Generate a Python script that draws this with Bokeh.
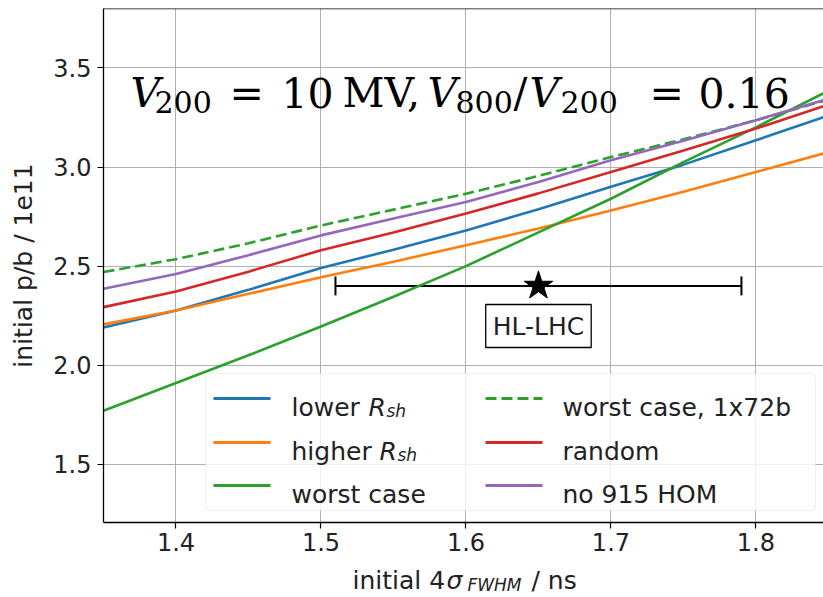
from bokeh.plotting import figure
from bokeh.layouts import column
from bokeh.models import (ColumnDataSource, Range1d, Label, BoxAnnotation, Arrow,
                          Whisker, TeeHead, Span, FixedTicker, PrintfTickFormatter)
from bokeh.core.properties import value
from bokeh.embed import file_html
from bokeh.resources import INLINE

# ---------------- data ----------------
x_ns = [1.35, 1.40, 1.45, 1.50, 1.55, 1.60, 1.65, 1.70, 1.75, 1.80, 1.85]
lower_rsh = [2.190, 2.276, 2.380, 2.490, 2.583, 2.680, 2.787, 2.900, 3.012, 3.135, 3.260]
higher_rsh = [2.206, 2.276, 2.360, 2.444, 2.522, 2.605, 2.690, 2.780, 2.875, 2.975, 3.075]
worst_case = [1.770, 1.910, 2.050, 2.195, 2.345, 2.500, 2.670, 2.840, 3.025, 3.200, 3.385]
worst_72b = [2.470, 2.535, 2.615, 2.705, 2.785, 2.865, 2.955, 3.050, 3.140, 3.236, 3.340]
random_ = [2.293, 2.372, 2.472, 2.580, 2.670, 2.765, 2.867, 2.975, 3.083, 3.194, 3.315]
no_915 = [2.386, 2.460, 2.555, 2.655, 2.740, 2.823, 2.925, 3.034, 3.132, 3.236, 3.345]

hl_x = [1.65]
hl_y = [2.40]
hl_lo = [1.51]
hl_hi = [1.79]

x_ticks = [1.4, 1.5, 1.6, 1.7, 1.8]
y_ticks = [1.5, 2.0, 2.5, 3.0, 3.5]

series = [
    ("lower R_sh", lower_rsh, "#1f77b4", None),
    ("higher R_sh", higher_rsh, "#ff7f0e", None),
    ("worst case", worst_case, "#2ca02c", None),
    ("worst case, 1x72b", worst_72b, "#2ca02c", "11 5"),
    ("random", random_, "#d62728", None),
    ("no 915 HOM", no_915, "#9467bd", None),
]

# ---------------- layout ----------------
W, H = 823, 597
H_LAB = 35                  # strip under the chart holding the x-axis title
H_MAIN = H - H_LAB
X0, X1 = 1.35, 1.8466
Y0, Y1 = 1.206, 3.80
FL, FT = 103, 8
FH = 514
FB = H_MAIN - FT - FH
fw = W - FL


def dx(px):
    return X0 + (px - FL) * (X1 - X0) / fw


def dy(py):
    return Y1 - (py - FT) * (Y1 - Y0) / FH


p = figure(width=W, height=H_MAIN, x_range=Range1d(X0, X1), y_range=Range1d(Y0, Y1),
           output_backend="svg", toolbar_location=None,
           min_border_left=FL, min_border_right=0, min_border_top=FT,
           min_border_bottom=FB)
p.outline_line_color = None
p.background_fill_color = "white"
p.border_fill_color = "white"

for ax in (p.xaxis, p.yaxis):
    ax.axis_line_color = "black"
    ax.axis_line_width = 1.3
    ax.major_tick_out = 6
    ax.major_tick_in = 0
    ax.major_tick_line_width = 1.2
    ax.minor_tick_line_color = None
    ax.major_label_text_font = "DejaVu Sans"
    ax.major_label_text_font_size = "24px"
    ax.major_label_text_color = "#222222"
    ax.formatter = PrintfTickFormatter(format="%.1f")
p.xaxis.ticker = FixedTicker(ticks=x_ticks)
p.yaxis.ticker = FixedTicker(ticks=y_ticks)
p.xaxis.major_label_standoff = 4
p.yaxis.major_label_standoff = 6

p.yaxis.axis_label = "initial p/b / 1e11"
p.yaxis.axis_label_text_font = "DejaVu Sans"
p.yaxis.axis_label_text_font_size = "25px"
p.yaxis.axis_label_text_font_style = "normal"
p.yaxis.axis_label_text_color = "#222222"
p.yaxis.axis_label_standoff = 12

p.grid.grid_line_color = "#b0b0b0"
p.grid.grid_line_width = 1
p.xgrid.ticker = FixedTicker(ticks=x_ticks)
p.ygrid.ticker = FixedTicker(ticks=y_ticks)

# top border
p.add_layout(Span(location=Y1, dimension="width", line_color="black", line_width=1.3))

# ---------------- curves ----------------
for name, ys, col, dash in series:
    if dash:
        p.line(x_ns, ys, line_color=col, line_width=2.6, line_dash=dash)
    else:
        p.line(x_ns, ys, line_color=col, line_width=2.6)

# ---------------- HL-LHC point ----------------
src = ColumnDataSource(dict(y=hl_y, lo=hl_lo, hi=hl_hi))
p.add_layout(Whisker(source=src, base="y", lower="lo", upper="hi", dimension="width",
                     line_color="black", line_width=2,
                     lower_head=TeeHead(size=19, line_width=2, line_color="black"),
                     upper_head=TeeHead(size=19, line_width=2, line_color="black")))
p.scatter(hl_x, hl_y, marker="star", size=30, color="black")
p.add_layout(Label(x=hl_x[0], y=dy(325.5), text="HL-LHC", text_align="center",
                   text_baseline="middle", text_font="DejaVu Sans", text_font_size="25px",
                   text_color="#222222", background_fill_color="white",
                   border_line_color="black", border_line_width=1.3, padding=7))


def put(px, py, text, size, style="normal", font="DejaVu Sans", color="#222222"):
    p.add_layout(Label(x=dx(px), y=dy(py), text=text, text_align="left",
                       text_baseline="alphabetic", text_font=font,
                       text_font_size=size, text_font_style=style, text_color=color))


# ---------------- title formula ----------------
SERIF = "DejaVu Serif"
BIG, SUB = "41px", "30px"
tb, sb = 92.7, 101.7
put(130, tb, "V", BIG, "italic", SERIF, "black")
put(154, sb, "200", SUB, "normal", SERIF, "black")
put(229, tb, "=", BIG, "normal", SERIF, "black")
put(281, tb, "10", BIG, "normal", SERIF, "black")
put(342, tb, "MV,", BIG, "normal", SERIF, "black")
put(427, tb, "V", BIG, "italic", SERIF, "black")
put(455, sb, "800", SUB, "normal", SERIF, "black")
put(513, tb, "/", BIG, "normal", SERIF, "black")
put(529, tb, "V", BIG, "italic", SERIF, "black")
put(560, sb, "200", SUB, "normal", SERIF, "black")
put(649, tb, "=", BIG, "normal", SERIF, "black")
put(698, tb, "0.16", BIG, "normal", SERIF, "black")

# ---------------- legend ----------------
p.add_layout(BoxAnnotation(left=dx(205), right=dx(815), top=dy(373), bottom=dy(510),
                           fill_color="white", fill_alpha=0.8, line_color="#cccccc",
                           line_width=1.2, border_radius=5))
rows = [398, 442, 485]
cols = [(213, 270), (485, 542)]
for i, (name, ys, col, dash) in enumerate(series):
    c, r = divmod(i, 3)
    x_a, x_b = cols[c]
    kw = dict(line_dash=dash) if dash else {}
    p.add_layout(Arrow(start=None, end=None, x_start=dx(x_a), y_start=dy(rows[r]),
                       x_end=dx(x_b), y_end=dy(rows[r]), line_color=col, line_width=3, **kw))

LF, LS = "25px", "17px"
put(291, rows[0] + 8.5, "lower", LF)
put(368, rows[0] + 8.5, "R", LF, "italic")
put(386, rows[0] + 12.5, "sh", LS, "italic")
put(291, rows[1] + 8.5, "higher", LF)
put(379, rows[1] + 8.5, "R", LF, "italic")
put(397, rows[1] + 12.5, "sh", LS, "italic")
put(291, rows[2] + 8.5, "worst case", LF)
put(562, rows[0] + 8.5, "worst case, 1x72b", LF)
put(562, rows[1] + 8.5, "random", LF)
put(562, rows[2] + 8.5, "no 915 HOM", LF)

# ---------------- x axis title (strip below the chart) ----------------
# the strip's frame is aligned with the main frame, so it shares the x scale
q = figure(width=W, height=H_LAB, x_range=Range1d(X0, X1), y_range=Range1d(H_LAB, 0),
           output_backend="svg", toolbar_location=None,
           min_border_left=FL, min_border_right=0,
           min_border_top=0, min_border_bottom=0)
q.title.visible = False
q.axis.visible = False
q.grid.visible = False
q.outline_line_color = None
q.background_fill_color = "white"
q.border_fill_color = "white"

xl_parts = [
    (352, 18, "initial 4", "25px", "normal"),
    (446, 18, "σ", "25px", "italic"),
    (467, 22, "FWHM", "17px", "italic"),
    (531, 18, "/ ns", "25px", "normal"),
]
for px, py, t, sz, st in xl_parts:
    q.text(x=[dx(px)], y=[py], text=[t], text_font=value("DejaVu Sans"), text_font_size=sz,
           text_font_style=st, text_color="#222222", text_align="left",
           text_baseline="alphabetic")

layout = column(p, q, spacing=0)
open("out.html", "w").write(file_html(layout, INLINE))
